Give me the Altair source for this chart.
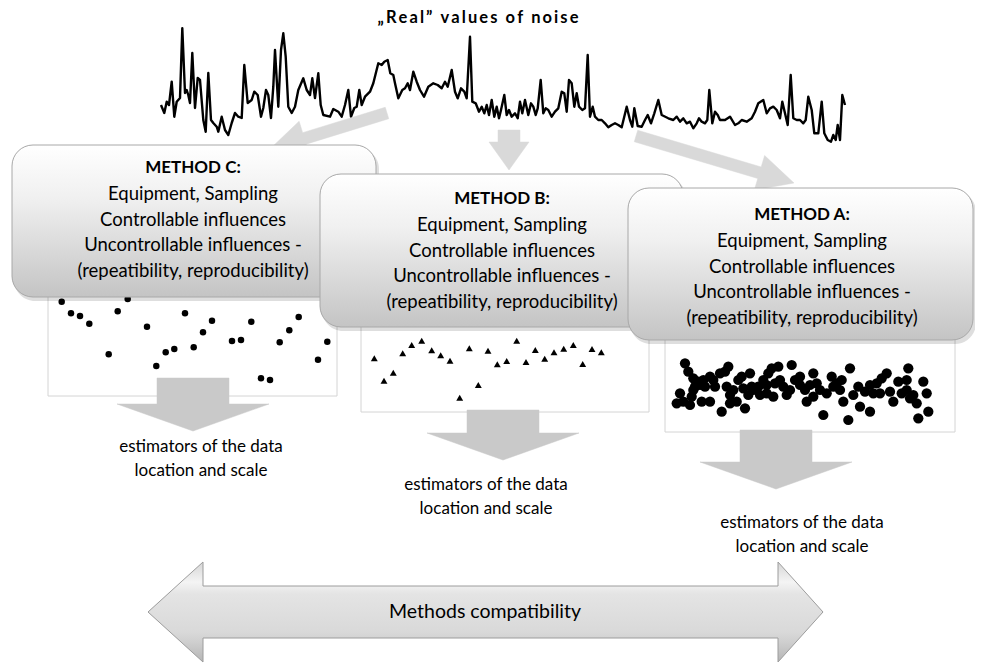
import math
import altair as alt
import pandas as pd

# ---------------- data ----------------
noise_x = [161, 164.3, 166.7, 169, 171.7, 174.3, 176.7, 180, 182.3, 185, 186.7, 188.3, 190, 192.3, 195, 197.7, 200,
           203.3, 205.7, 208.3, 211, 213.3, 216.7, 218.3, 221.7, 225, 228.3, 231.7, 235, 238.3, 241.7, 244.3, 247.7,
           251.7, 254.3, 257.7, 261, 263.3, 266, 268.3, 271, 273.3, 275, 278.3, 281, 283.3, 285.7, 288.3, 291.7, 295,
           298.3, 303.3, 306.7, 310, 312.3, 315, 318.3, 320.7, 323.3,
           330, 333.3, 338.3, 341.7, 345, 348.3, 351, 354.3, 356.7, 359.3, 361.7, 365, 370, 373.3, 378.3, 381.7, 384.3,
           387.7, 390.3, 393.3, 395, 398.3, 402.3, 405, 407.7, 410, 413.3, 416.7, 420, 424, 428.3, 433.3, 437.7, 441.7,
           445, 447.7, 451.7, 455, 457.7, 461, 464.3, 466.7, 470, 472.3, 475.7, 479, 481.7, 484.3, 486.7, 489, 491.7,
           494.3, 496.7, 499,
           501, 504.3, 506.7, 509, 511.7, 515, 517.7, 520, 522.3, 525, 528.3, 531, 533.3, 535.7, 537.7, 540.7, 543.3,
           545.7, 548.3, 551.7, 555, 558.3, 561.7, 564.3, 566.7, 569, 571.7, 574.3, 576.7, 579, 582.3, 585, 587.7, 590,
           592.7, 595, 598.3, 601.7, 605, 608.3, 611.7, 615, 618.3, 621.7, 626.7, 630, 632.3, 634.3, 637.7, 641.7, 645,
           647.7, 651, 654.3, 658.3, 661.7, 668.3,
           673.3, 676.7, 680, 683.3, 686.7, 690, 693.3, 696.7, 699, 701.7, 705, 707.3, 709.3, 712.3, 715, 717.7, 720,
           725, 730, 735, 738.3, 741.7, 746.7, 751.7, 755, 758.3, 763.3, 766.7, 770, 773.3, 776.7, 780, 782.3, 785,
           787.7, 790.7, 793.3, 796.7, 800, 803.3, 805.7, 808.3, 811.7, 814.3, 818.3, 821.7, 824.3, 827.7, 831, 833.3,
           835.7, 837.7, 840, 842.3, 845]
noise_y = [105, 113, 101.7, 105, 81.7, 116.7, 101.7, 98, 28.3, 93, 90, 95, 103, 53, 108, 78, 80,
           120, 131.7, 73, 120, 123, 126.7, 131.7, 116.7, 130, 135, 123, 113, 116.7, 118, 65, 103,
           100, 91.7, 95, 116.7, 108, 90, 95, 118, 86.7, 50, 106.7, 50, 33.3, 56.7, 106.7, 113, 106.7,
           90, 78.3, 90, 95, 78.3, 98, 73.3, 105, 115,
           116.7, 109, 111.7, 116.7, 105, 90, 116.7, 108, 106.7, 90, 105, 96.7, 91.7, 83.3, 63.3, 65, 61.7,
           60, 73.3, 75, 83.3, 98.3, 90, 88.3, 83.3, 90, 71.7, 81.7, 90, 96.7, 86.7, 83.3, 85, 88.3,
           81.7, 86.7, 70, 91.7, 98.3, 88.3, 91.7, 98.3, 36.7, 101.7, 103.3, 111.7, 106.7, 113.3, 105, 115, 100,
           116.7, 106.7, 118.3,
           110, 95, 115, 110, 116.7, 113.3, 118.3, 101.7, 113.3, 100, 115, 103.3, 106.7, 115, 108.3, 80, 113.3,
           108.3, 110, 116.7, 111.7, 108.3, 91.7, 93.3, 111.7, 80, 83.3, 106.7, 93.3, 106.7, 110, 108.3, 55, 116.7,
           106.7, 116.7, 120, 120, 123.3, 127.3, 125, 123.3, 125, 127.3, 106.7, 120, 126.7, 108.3, 126, 126.7, 120,
           115, 123.3, 113.3, 100, 115, 118.3,
           120, 116.7, 121.7, 118.3, 123.3, 121.7, 128.3, 123.3, 118.3, 121.7, 123.3, 120, 90, 123.3, 111.7, 115, 120,
           120, 116.7, 125, 123.3, 120, 121.7, 118.3, 111.7, 103.3, 100, 113.3, 108.3, 106.7, 110, 118.3, 101.7, 113.3,
           125, 75, 118.3, 120, 120, 123.3, 120, 96.7, 110, 133.3, 133.3, 101.7, 133.3, 140, 141.7, 135,
           140, 125, 140, 95, 105]

# Method C sample (circles)
c_x = [61.7, 127.7, 71, 80, 89.3, 117.7, 108.7, 147, 185, 212, 203, 165.7, 174.3, 156.3, 193.7, 232, 241, 251.3,
       261, 270, 279.7, 289.3, 298.7, 318, 327.3]
c_y = [301.7, 299, 313.3, 316, 323.7, 311.3, 354.3, 326.7, 313.3, 320.7, 332.3, 352.3, 349, 366, 347.3, 341, 340,
       321.7, 378.3, 380, 342.3, 330.3, 317, 359.7, 341.7]

# Method B sample (triangles)
b_x = [374.3, 384, 393.3, 402.7, 411.7, 421.7, 431.7, 440.7, 450, 459.7, 469.3, 478.3, 488, 497.3, 506.7, 516.7,
       526, 535.3, 544.7, 554, 563.7, 573.3, 582.7, 592, 601.3]
b_y = [358.3, 380.7, 372.7, 353.3, 345, 340.7, 350.3, 355.3, 360.7, 397.7, 348.3, 385, 350.7, 364.3, 361, 340.7,
       362, 350, 358.7, 352.3, 348.7, 345, 364, 349, 352.3]

# Method A sample (dense circles)
a_x = [685, 688.3, 693.3, 698.3, 695, 703.3, 710, 713.3, 705, 720, 725, 728.3, 680, 676.7, 690, 701.7, 710, 693.3,
       721.7, 730, 733.3, 738.3, 741.7, 750, 743.3, 736.7, 745, 748.3, 753.3, 758.3, 763.3, 768.3, 771.7, 778.3,
       773.3, 766.7, 760, 775, 780, 783.3, 791.7, 790, 795, 800, 805, 806.7, 813.3, 816.7, 820, 823.3, 826.7, 831.7,
       836.7, 841.7, 843.3, 848.3, 850, 853.3, 858.3, 860, 865, 870, 870, 876.7, 881.7, 886.7, 890, 893.3, 898.3,
       901.7, 906.7, 908.3, 910, 916.7, 923.3, 926.7, 918.3, 928.3, 700, 715, 726.7, 751.7, 800, 810, 833.3, 840,
       873.3, 880, 906.7, 913.3, 766.7, 786.7, 813.3, 730, 691.7, 683.3]
a_y = [363.3, 371.7, 378.3, 381.7, 386.7, 380, 376.7, 380, 386.7, 373.3, 371.7, 366.7, 393.3, 403.3, 405, 401.7,
       401.7, 390, 411.7, 395, 390, 380, 376.7, 373.3, 388.3, 401.7, 408.3, 395, 390, 386.7, 380, 373.3, 368.3,
       366.7, 396.7, 393.3, 395, 383.3, 380, 386.7, 365, 390, 380, 385, 390, 401.7, 373.3, 383.3, 390, 415, 393.3,
       376.7, 383.3, 380, 401.7, 420, 368.3, 395, 386.7, 406.7, 391.7, 385, 411.7, 383.3, 378.3, 373.3, 391.7,
       401.7, 381.7, 393.3, 380, 368.3, 398.3, 403.3, 381.7, 393.3, 418.3, 411.7, 385, 386.7, 386.7, 386.7, 376.7,
       385, 386.7, 390, 393.3, 393.3, 390, 395, 385, 395, 396.7, 403.3, 396.7, 401.7]

title_text = "„Real” values of noise"
method_names = ["METHOD C:", "METHOD B:", "METHOD A:"]
method_lines = ["Equipment, Sampling", "Controllable influences", "Uncontrollable influences -",
                "(repeatibility, reproducibility)"]
estimator_lines = ["estimators of the data", "location and scale"]
compat_label = "Methods compatibility"

# ---------------- layout (diagram geometry, in reference pixel space) ----------------
FONT = "Lato"
box_rects = [(12, 145, 376, 297), (320, 174, 683, 327), (628, 188, 973, 340)]
box_text_cx = [193, 502, 802]
box_text_top = [168, 199, 215]
LINE_GAP = 25.8
frames = [(48, 280, 337, 396), (361, 310, 649, 412), (665, 330, 955, 432)]
est_cx = [201, 486, 802]
est_top = [447, 485, 523]
down_arrows = [(193, 36, 378, 404, 76, 431), (503, 36, 410, 433, 76, 460), (776, 36, 430, 462, 76, 489)]


def spaced(s, gap="\u2009"):
    return gap.join(s)


def slanted_arrow(tail, tip, w, L, H):
    dx, dy = tip[0] - tail[0], tip[1] - tail[1]
    ln = math.hypot(dx, dy)
    ux, uy = dx / ln, dy / ln
    nx, ny = -uy, ux
    bx, by = tip[0] - ux * L, tip[1] - uy * L
    return [(tail[0] + nx * w, tail[1] + ny * w), (bx + nx * w, by + ny * w), (bx + nx * H, by + ny * H), tip,
            (bx - nx * H, by - ny * H), (bx - nx * w, by - ny * w), (tail[0] - nx * w, tail[1] - ny * w)]


def down_arrow(cx, sh, top, hy, hh, tip):
    return [(cx - sh, top), (cx + sh, top), (cx + sh, hy), (cx + hh, hy), (cx, tip), (cx - hh, hy), (cx - sh, hy)]


def poly_rows(shapes):
    rows = []
    for sid, pts in enumerate(shapes):
        pts = list(pts) + [pts[0]]
        for i, (x, y) in enumerate(pts):
            rows.append({"sid": sid, "o": i, "x": x, "y": y})
    return pd.DataFrame(rows)


noise_arrows = [slanted_arrow((387, 113), (270, 149), 6, 36, 18),
                down_arrow(509, 11, 130, 142, 20, 170),
                slanted_arrow((636, 136), (794, 183), 6, 36, 18)]
down_polys = [down_arrow(*d) for d in down_arrows]
double_arrow = [[(148, 612), (203, 562), (203, 586), (778, 586), (778, 562), (823, 612), (778, 662), (778, 638),
                 (203, 638), (203, 662)]]

X = alt.Scale(domain=[8, 975], nice=False, zero=False)
Y = alt.Scale(domain=[663, 8], nice=False, zero=False)


def xy(xf="x", yf="y"):
    return dict(x=alt.X(f"{xf}:Q", scale=X, axis=None), y=alt.Y(f"{yf}:Q", scale=Y, axis=None))


def rect_enc():
    return dict(x=alt.X("x:Q", scale=X, axis=None), x2="x2:Q", y=alt.Y("y:Q", scale=Y, axis=None), y2="y2:Q")


def poly_layer(shapes, fill, stroke, sw=1):
    return alt.Chart(poly_rows(shapes)).mark_line(fill=fill, stroke=stroke, strokeWidth=sw,
                                                  strokeJoin="miter").encode(
        order="o:Q", detail="sid:N", **xy())


layers = []

# noise series
noise_df = pd.DataFrame({"x": noise_x, "y": noise_y})
layers.append(alt.Chart(noise_df).mark_line(color="black", strokeWidth=2.4, strokeJoin="round").encode(**xy()))

# title (letter-spaced)
layers.append(alt.Chart(pd.DataFrame({"x": [478], "y": [18], "t": [spaced(title_text)]})).mark_text(
    font=FONT, fontSize=16.5, fontWeight="bold", align="center", baseline="middle", color="black").encode(
    text="t:N", **xy()))

# arrows from noise
layers.append(poly_layer(noise_arrows, "#d9d9d9", "#d9d9d9", 0.5))

# scatter frames
fr = pd.DataFrame([{"x": f[0], "y": f[1], "x2": f[2], "y2": f[3]} for f in frames])
layers.append(alt.Chart(fr).mark_rect(fill="white", stroke="#d4d4d4", strokeWidth=1).encode(**rect_enc()))

# down arrows
layers.append(poly_layer(down_polys, "#c9c9c9", "#c9c9c9", 0.5))

# sample points
layers.append(alt.Chart(pd.DataFrame({"x": c_x, "y": c_y})).mark_point(
    shape="circle", filled=True, size=42, color="black", opacity=1).encode(**xy()))
layers.append(alt.Chart(pd.DataFrame({"x": b_x, "y": b_y})).mark_point(
    shape="triangle-up", filled=True, size=48, color="black", opacity=1).encode(**xy()))
layers.append(alt.Chart(pd.DataFrame({"x": a_x, "y": a_y})).mark_point(
    shape="circle", filled=True, size=105, color="black", opacity=1).encode(**xy()))

# method boxes
box_grad = alt.Gradient(gradient="linear", x1=0, y1=0, x2=0, y2=1,
                        stops=[alt.GradientStop(offset=0, color="#ffffff"),
                               alt.GradientStop(offset=0.35, color="#f0f0f0"),
                               alt.GradientStop(offset=1, color="#c4c4c4")])
for i, (x0, y0, x1, y1) in enumerate(box_rects):
    sh = pd.DataFrame({"x": [x0 + 2], "y": [y0 + 3], "x2": [x1 + 3], "y2": [y1 + 4]})
    layers.append(alt.Chart(sh).mark_rect(fill="black", opacity=0.13, cornerRadius=21).encode(**rect_enc()))
    bx = pd.DataFrame({"x": [x0], "y": [y0], "x2": [x1], "y2": [y1]})
    layers.append(alt.Chart(bx).mark_rect(fill=box_grad, stroke="#a8a8a8", strokeWidth=1,
                                          cornerRadius=21).encode(**rect_enc()))

# box texts
rows = []
for i in range(3):
    rows.append({"x": box_text_cx[i], "y": box_text_top[i], "t": method_names[i], "w": "bold"})
    for k, line in enumerate(method_lines):
        rows.append({"x": box_text_cx[i], "y": box_text_top[i] + LINE_GAP * (k + 1), "t": line, "w": "normal"})
bt = pd.DataFrame(rows)
layers.append(alt.Chart(bt[bt.w == "bold"]).mark_text(
    font=FONT, fontSize=17, fontWeight="bold", align="center", baseline="middle", color="black").encode(
    text="t:N", **xy()))
layers.append(alt.Chart(bt[bt.w == "normal"]).mark_text(
    font=FONT, fontSize=18.5, align="center", baseline="middle", color="black").encode(text="t:N", **xy()))

# estimator texts
er = []
for i in range(3):
    for k, line in enumerate(estimator_lines):
        er.append({"x": est_cx[i], "y": est_top[i] + 23.5 * k, "t": line})
layers.append(alt.Chart(pd.DataFrame(er)).mark_text(
    font=FONT, fontSize=17, align="center", baseline="middle", color="black").encode(text="t:N", **xy()))

# compatibility double arrow
dgrad = alt.Gradient(gradient="linear", x1=0, y1=0, x2=0, y2=1,
                     stops=[alt.GradientStop(offset=0, color="#d6d6d6"),
                            alt.GradientStop(offset=0.2, color="#f4f4f4"),
                            alt.GradientStop(offset=0.32, color="#e4e4e4"),
                            alt.GradientStop(offset=0.7, color="#d9d9d9"),
                            alt.GradientStop(offset=0.8, color="#cfcfcf"),
                            alt.GradientStop(offset=1, color="#b5b5b5")])
layers.append(poly_layer(double_arrow, dgrad, "#9c9c9c", 1))
layers.append(alt.Chart(pd.DataFrame({"x": [485], "y": [612], "t": [compat_label]})).mark_text(
    font=FONT, fontSize=19.5, align="center", baseline="middle", color="black").encode(text="t:N", **xy()))

chart = alt.layer(*layers).properties(
    width=967, height=655, padding=0, autosize=alt.AutoSizeParams(type="none"), background="white"
).configure_view(stroke=None)

chart.save("out.html", embed_options={"renderer": "svg", "actions": False})
